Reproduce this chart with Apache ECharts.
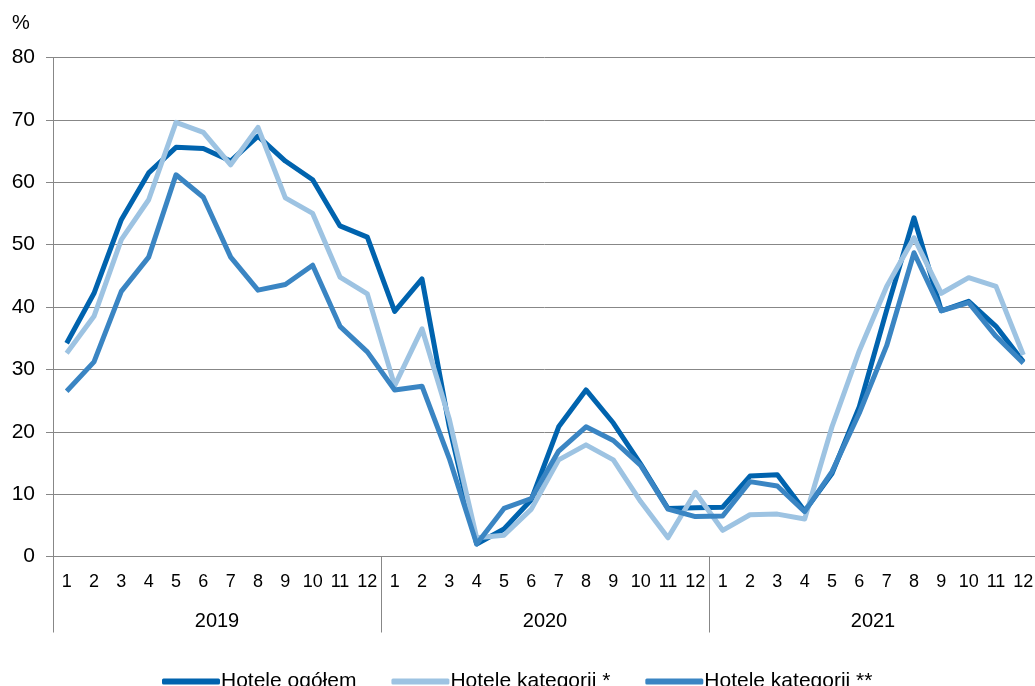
<!DOCTYPE html>
<html>
<head>
<meta charset="utf-8">
<script src="https://cdn.jsdelivr.net/npm/echarts@6/dist/echarts.min.js"></script>
<style>
  html, body { margin: 0; padding: 0; background: #fff; }
  #main { width: 1035px; height: 686px; }
</style>
</head>
<body>
<div id="main"></div>
<script>
var months = ['1','2','3','4','5','6','7','8','9','10','11','12',
              '1','2','3','4','5','6','7','8','9','10','11','12',
              '1','2','3','4','5','6','7','8','9','10','11','12'];
var years = ['2019', '2020', '2021'];
var yTicks = { min: 0, max: 80, step: 10 };

// Hotele ogółem
var hoteleOgolem = [
    34.2, 42.2, 54.0, 61.5, 65.6, 65.4, 63.4, 67.4, 63.4, 60.4, 53.0, 51.2,
    39.3, 44.5, 20.8, 2.0, 4.4, 9.1, 20.8, 26.7, 21.4, 14.8, 7.7, 7.8,
    7.9, 12.9, 13.1, 7.3, 13.3, 24.0, 39.5, 54.3, 39.4, 40.9, 36.9, 31.2
];
// Hotele kategorii *
var hoteleKat1 = [
    32.6, 38.5, 50.8, 57.2, 69.6, 68.0, 62.8, 68.8, 57.5, 55.0, 44.8, 42.1,
    27.4, 36.5, 22.0, 3.0, 3.4, 7.6, 15.5, 17.9, 15.5, 8.8, 3.0, 10.3,
    4.2, 6.7, 6.8, 6.0, 20.8, 33.0, 43.3, 51.1, 42.2, 44.7, 43.3, 32.3
];
// Hotele kategorii **
var hoteleKat2 = [
    26.5, 31.2, 42.5, 48.0, 61.2, 57.6, 48.0, 42.7, 43.6, 46.7, 36.9, 32.8,
    26.7, 27.3, 15.7, 2.0, 7.7, 9.3, 16.9, 20.8, 18.6, 14.6, 7.6, 6.4,
    6.5, 12.0, 11.3, 7.2, 13.6, 23.0, 33.8, 48.7, 39.4, 40.7, 35.3, 31.0
];

var axisGray = '#878787';
var font = '"Liberation Sans", Arial, sans-serif';

var chart = echarts.init(document.getElementById('main'));

chart.setOption({
    animation: false,
    backgroundColor: '#fff',
    textStyle: { fontFamily: font, color: '#000' },
    title: {
        text: '%',
        left: 12,
        top: 13,
        padding: 0,
        textStyle: { fontFamily: font, fontSize: 20, fontWeight: 'normal', color: '#000' }
    },
    grid: {
        left: 53,
        top: 57.5,
        width: 984,
        height: 499,
        containLabel: false,
        outerBoundsMode: 'none'
    },
    legend: {
        top: 666,
        left: 157,
        itemWidth: 58,
        itemHeight: 6,
        itemGap: 35,
        icon: 'roundRect',
        textStyle: { fontFamily: font, fontSize: 21, color: '#000', padding: [0, 0, 0, -4] },
        data: ['Hotele ogółem', 'Hotele kategorii *', 'Hotele kategorii **']
    },
    xAxis: [
        {
            type: 'category',
            data: months,
            boundaryGap: true,
            axisLine: { show: true, lineStyle: { color: axisGray, width: 1 } },
            axisTick: { show: false },
            axisLabel: { interval: 0, margin: 17, fontSize: 18, color: '#000', fontFamily: font },
            splitLine: { show: false }
        },
        {
            type: 'category',
            data: years,
            position: 'bottom',
            boundaryGap: true,
            axisLine: { show: false },
            axisTick: { show: true, length: 76, interval: 0, lineStyle: { color: axisGray, width: 1 } },
            axisLabel: { interval: 0, margin: 55, fontSize: 20, color: '#000', fontFamily: font },
            splitLine: { show: false }
        }
    ],
    yAxis: {
        type: 'value',
        min: yTicks.min,
        max: yTicks.max,
        interval: yTicks.step,
        axisLine: { show: true, lineStyle: { color: axisGray, width: 1 } },
        axisTick: { show: true, length: 7, lineStyle: { color: axisGray, width: 1 } },
        axisLabel: { margin: 18, fontSize: 21, color: '#000', fontFamily: font },
        splitLine: { show: true, lineStyle: { color: axisGray, width: 1 } }
    },
    series: [
        {
            name: 'Hotele ogółem',
            type: 'line',
            data: hoteleOgolem,
            symbol: 'none',
            color: '#0063AE',
            lineStyle: { width: 5, color: '#0063AE', join: 'round' }
        },
        {
            name: 'Hotele kategorii *',
            type: 'line',
            data: hoteleKat1,
            symbol: 'none',
            color: '#9DC3E2',
            lineStyle: { width: 5, color: '#9DC3E2', join: 'round' }
        },
        {
            name: 'Hotele kategorii **',
            type: 'line',
            data: hoteleKat2,
            symbol: 'none',
            color: '#3A85C3',
            lineStyle: { width: 5, color: '#3A85C3', join: 'round' }
        }
    ]
});
</script>
</body>
</html>
